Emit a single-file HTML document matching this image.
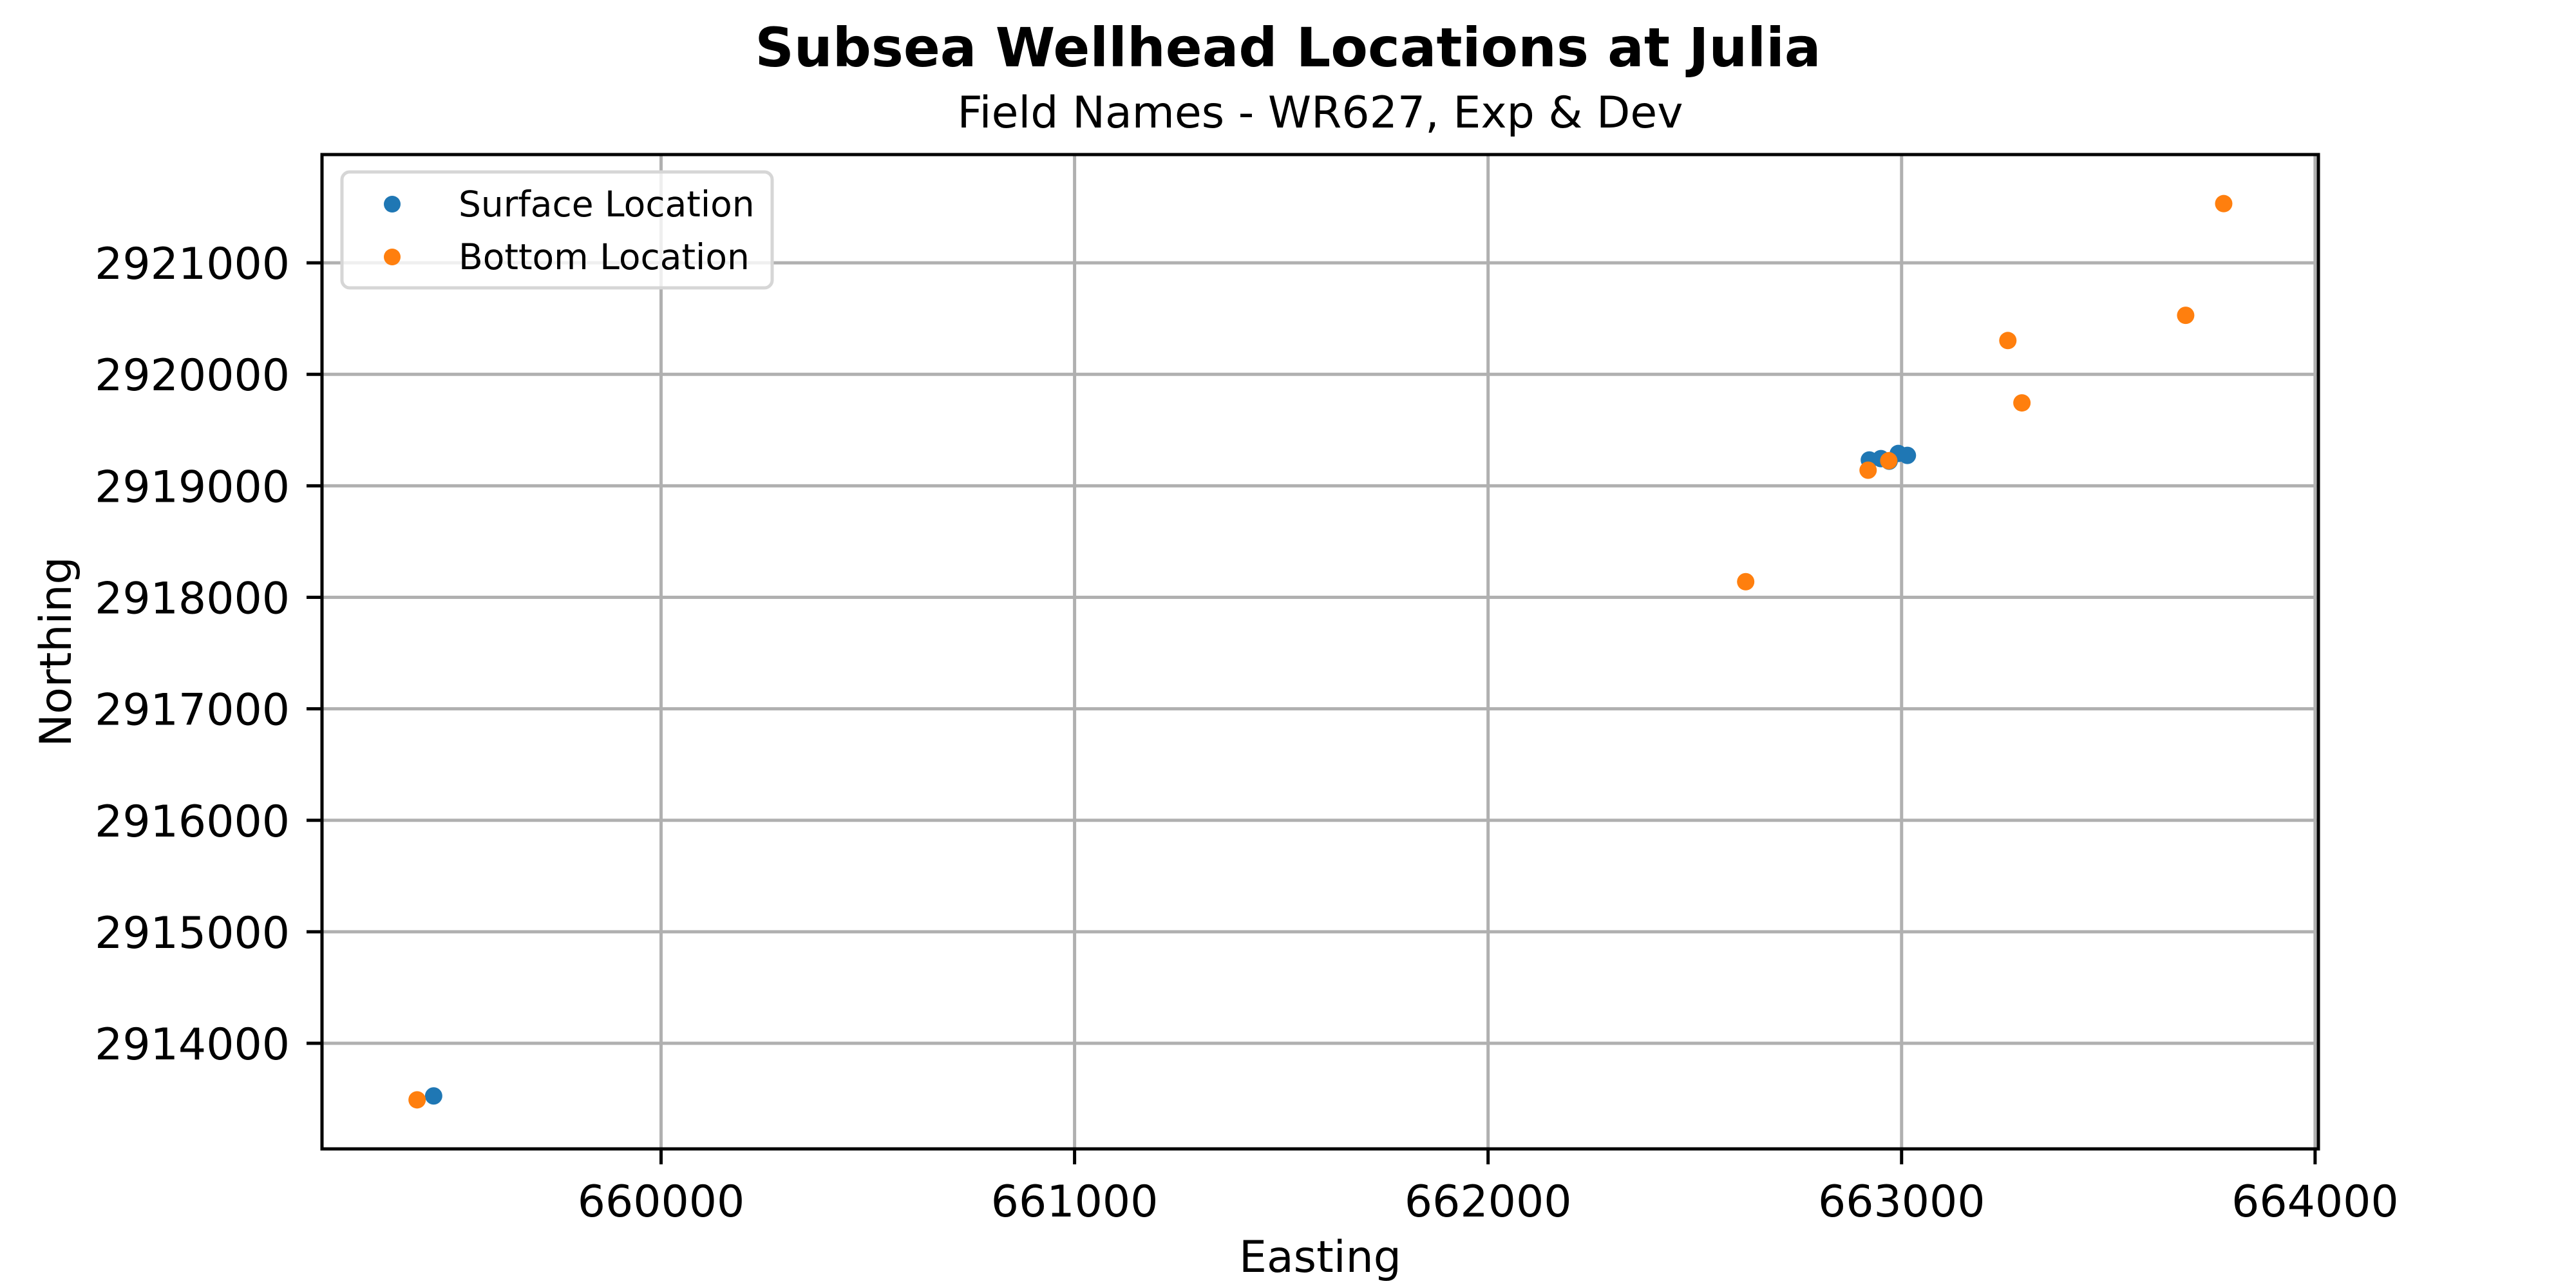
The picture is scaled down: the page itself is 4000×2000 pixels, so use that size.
<!DOCTYPE html>
<html><head><meta charset="utf-8"><style>
html,body{margin:0;padding:0;background:#fff;}
svg{display:block;font-family:"DejaVu Sans","Liberation Sans",sans-serif;}
</style></head><body>
<svg id="chart" width="4000" height="2000" viewBox="0 0 4000 2000" xmlns="http://www.w3.org/2000/svg">
<rect width="4000" height="2000" fill="#fff"/>
<text x="2000" y="103" text-anchor="middle" font-size="84" font-weight="bold">Subsea Wellhead Locations at Julia</text>
<text x="2050" y="198" text-anchor="middle" font-size="68">Field Names - WR627, Exp &amp; Dev</text>
<g id="grid"></g>
<g id="marks"></g>
<rect x="500" y="240" width="3100" height="1544" fill="none" stroke="#000" stroke-width="5"/>
<g id="ticks"></g>
<text x="2050" y="1975" text-anchor="middle" font-size="68">Easting</text>
<text transform="translate(110,1012) rotate(-90)" text-anchor="middle" font-size="68">Northing</text>
<g>
<rect x="531" y="267" width="668" height="180" rx="12" fill="#fff" fill-opacity="0.8" stroke="#d6d6d6" stroke-width="5"/>
<circle cx="609" cy="317" r="13" fill="#1f77b4"/>
<text x="712" y="336" font-size="55">Surface Location</text>
<circle cx="609" cy="399" r="13" fill="#ff7f0e"/>
<text x="712" y="418" font-size="55">Bottom Location</text>
</g>
</svg>
<script>
const xTicks = [660000, 661000, 662000, 663000, 664000];
const yTicks = [2914000, 2915000, 2916000, 2917000, 2918000, 2919000, 2920000, 2921000];
const surfaceX = [659450, 662922, 662950, 662970, 662992, 663014];
const surfaceY = [2913528, 2919232, 2919244, 2919221, 2919290, 2919273];
const bottomX = [659410, 662623, 662919, 662969, 663257, 663291, 663687, 663779];
const bottomY = [2913493, 2918140, 2919140, 2919225, 2920303, 2919744, 2920529, 2921531];

const X0 = 659180, X1 = 664008, Y0 = 2913053, Y1 = 2921971;
const L = 500, R = 3600, T = 240, B = 1784;
function sx(v){ return L + (v - X0) / (X1 - X0) * (R - L); }
function sy(v){ return B - (v - Y0) / (Y1 - Y0) * (B - T); }
const NS = 'http://www.w3.org/2000/svg';
function mk(tag, attrs, parent){
  const e = document.createElementNS(NS, tag);
  for (const k in attrs) e.setAttribute(k, attrs[k]);
  parent.appendChild(e);
  return e;
}
const grid = document.getElementById('grid');
const ticks = document.getElementById('ticks');
const marks = document.getElementById('marks');
xTicks.forEach(v => {
  const x = sx(v);
  const g = mk('line', {x1:x, x2:x, y1:T, y2:B, stroke:'#b0b0b0', 'stroke-width':5}, grid);
  
  
  const t = mk('line', {x1:x, x2:x, y1:B, y2:B+24, stroke:'#000', 'stroke-width':5}, ticks);
  
  
  const l = mk('text', {x:x, y:1889, 'text-anchor':'middle', 'font-size':68}, ticks);
  l.textContent = String(v);
  
  
});
yTicks.forEach(v => {
  const y = sy(v);
  const g = mk('line', {x1:L, x2:R, y1:y, y2:y, stroke:'#b0b0b0', 'stroke-width':5}, grid);
  
  
  const t = mk('line', {x1:L-24, x2:L, y1:y, y2:y, stroke:'#000', 'stroke-width':5}, ticks);
  
  
  const l = mk('text', {x:450, y:y+25, 'text-anchor':'end', 'font-size':68}, ticks);
  l.textContent = String(v);
  
  
});
surfaceX.forEach((v, i) => {
  const c = mk('circle', {cx:sx(v), cy:sy(surfaceY[i]), r:13.5, fill:'#1f77b4'}, marks);
  
  
});
bottomX.forEach((v, i) => {
  const c = mk('circle', {cx:sx(v), cy:sy(bottomY[i]), r:13.5, fill:'#ff7f0e'}, marks);
  
  
});
</script>
</body></html>
